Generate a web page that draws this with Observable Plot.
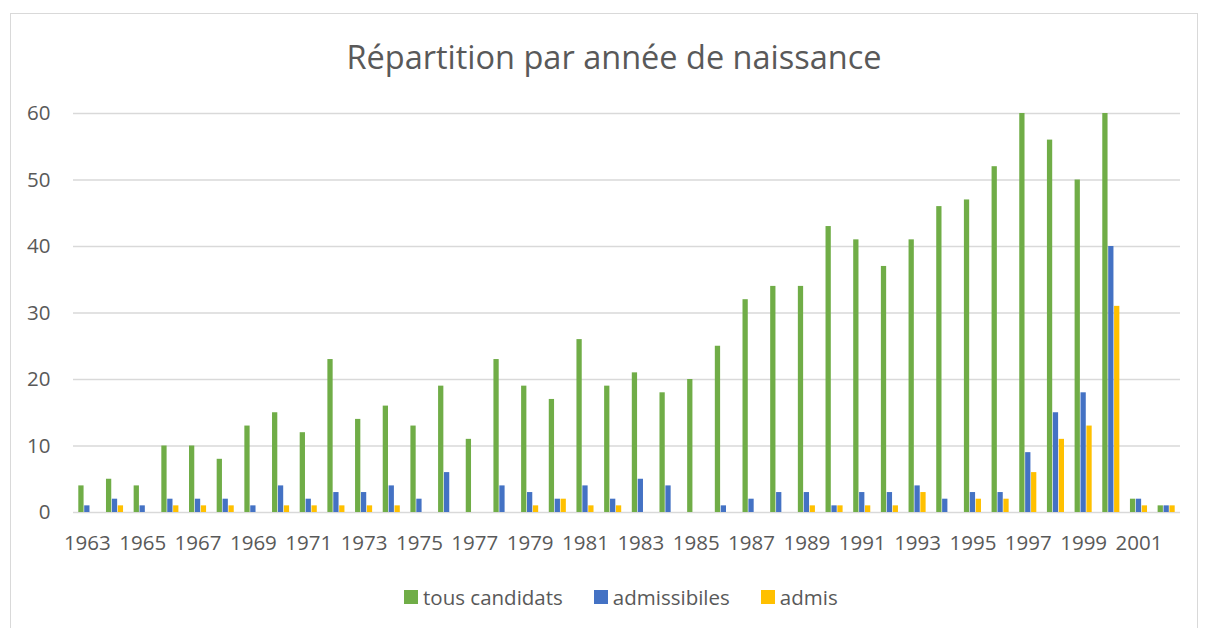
<!DOCTYPE html>
<html><head><meta charset="utf-8">
<script src="https://cdn.jsdelivr.net/npm/d3@7"></script>
<script src="https://cdn.jsdelivr.net/npm/@observablehq/plot@0.6"></script>
<style>
body{margin:0;background:#fff;font-family:"Open Sans",sans-serif;width:1208px;height:628px;overflow:hidden;position:relative;}
#frame{position:absolute;left:10px;top:13px;width:1188px;height:700px;border:1px solid #d9d9d9;box-sizing:border-box;}
#title{position:absolute;left:0;top:37px;width:1228px;text-align:center;font-size:32.5px;line-height:40px;color:#595959;}
#chart{position:absolute;left:0;top:90px;width:1208px;}
#legend{position:absolute;left:404px;top:584px;display:flex;align-items:center;font-size:20.5px;color:#595959;line-height:26px;}
#legend .item{display:flex;align-items:center;margin-right:31px;}
#legend .sw{width:14px;height:14px;margin-right:5px;}
</style></head><body>
<div id="frame"></div>
<div id="title">Répartition par année de naissance</div>
<div id="chart"></div>
<div id="legend"></div>
<script>
const years = [1963,1964,1965,1966,1967,1968,1969,1970,1971,1972,1973,1974,1975,1976,1977,1978,1979,1980,1981,1982,1983,1984,1985,1986,1987,1988,1989,1990,1991,1992,1993,1994,1995,1996,1997,1998,1999,2000,2001,2002];
const tousCandidats = [4,5,4,10,10,8,13,15,12,23,14,16,13,19,11,23,19,17,26,19,21,18,20,25,32,34,34,43,41,37,41,46,47,52,60,56,50,60,2,1];
const admissibiles = [1,2,1,2,2,2,1,4,2,3,3,4,2,6,0,4,3,2,4,2,5,4,0,1,2,3,3,1,3,3,4,2,3,3,9,15,18,40,2,1];
const admis = [0,1,0,1,1,1,0,1,1,1,1,1,0,0,0,0,1,2,1,1,0,0,0,0,0,0,1,1,1,1,3,0,2,2,6,11,13,31,1,1];
const seriesNames = ["tous candidats","admissibiles","admis"];
const seriesColors = ["#70ad47","#4472c4","#ffc000"];
const yTicks = [0,10,20,30,40,50,60];
const xTickLabels = [1963,1965,1967,1969,1971,1973,1975,1977,1979,1981,1983,1985,1987,1989,1991,1993,1995,1997,1999,2001];

const seriesValues = [tousCandidats, admissibiles, admis];
const tables = seriesValues.map(vals => years.map((yr, i) => ({year: yr, value: vals[i]})));

// bar placement inside each year band (styling only): [insetLeft, insetRight]
const insets = [[5.3, 17.1], [11.2, 11.2], [17.1, 5.3]];

const chart = Plot.plot({
  width: 1208,
  height: 472,
  marginLeft: 73,
  marginRight: 28,
  marginTop: 23,
  marginBottom: 50,
  style: {fontFamily: "'Open Sans', sans-serif", fontSize: "20.5px", color: "#595959", background: "transparent", overflow: "visible"},
  x: {domain: years, padding: 0, round: false, label: null, tickSize: 0, tickPadding: 23,
      tickFormat: d => xTickLabels.includes(d) ? String(d) : ""},
  y: {domain: [0, 60], ticks: yTicks, tickSize: 0, tickPadding: 23, label: null},
  marks: [
    Plot.ruleY(yTicks, {stroke: "#d9d9d9", strokeWidth: 1.3}),
    ...tables.map((t, k) => Plot.barY(t, {x: "year", y: "value", fill: seriesColors[k],
      insetLeft: insets[k][0], insetRight: insets[k][1]}))
  ]
});
document.getElementById("chart").appendChild(chart);

const legend = document.getElementById("legend");
seriesNames.forEach((s, k) => {
  const it = document.createElement("div");
  it.className = "item";
  const sw = document.createElement("div");
  sw.className = "sw";
  sw.style.background = seriesColors[k];
  const t = document.createElement("span");
  t.textContent = s;
  it.appendChild(sw); it.appendChild(t);
  legend.appendChild(it);
});
</script>
</body></html>
